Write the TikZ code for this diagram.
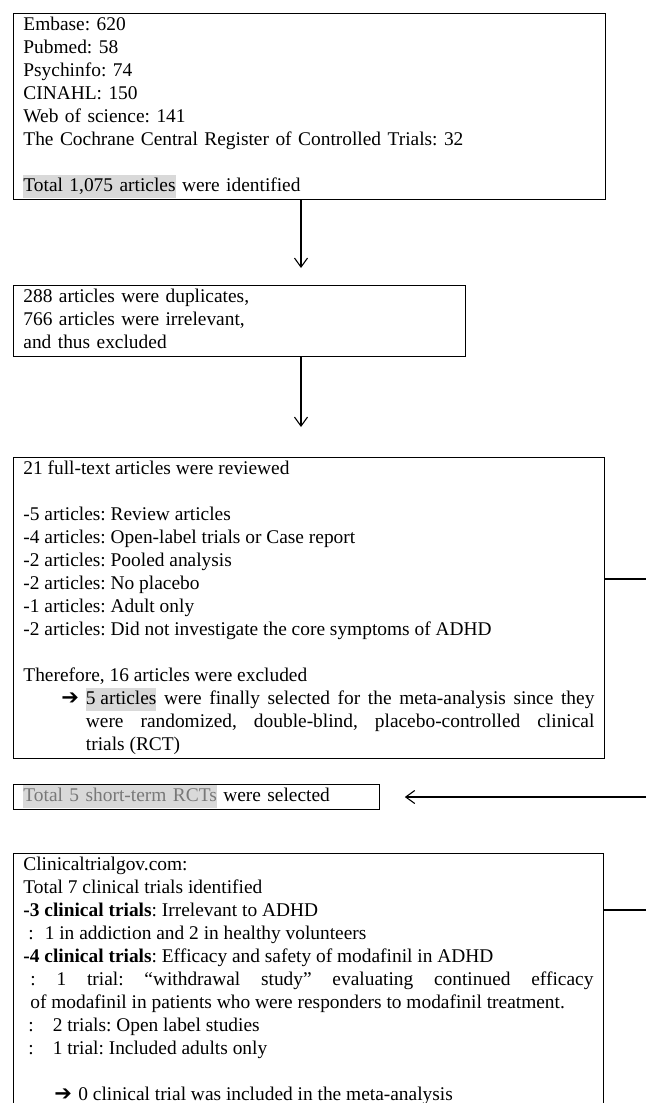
\documentclass[tikz,border=0pt]{standalone}
\usepackage{fontspec}
\setmainfont{Liberation Serif}
\newfontfamily\symfont{DejaVu Sans}
\usepackage{xcolor}
\usepackage{tikz}
\usetikzlibrary{arrows.meta}

\definecolor{hlgray}{RGB}{217,217,217}
\definecolor{txtgray}{RGB}{120,120,120}
\newcommand{\hlt}[1]{{\setlength{\fboxsep}{0pt}\colorbox{hlgray}{\strut#1}}}
\newcommand{\darr}{{\symfont\fontsize{21}{23}\selectfont ➔}}
\frenchspacing

\begin{document}
\begin{tikzpicture}[x=1pt,y=1pt,yscale=-1,
    panel/.style={draw, line width=0.8pt, anchor=north west, inner xsep=10pt, inner ysep=1pt,
        font=\fontsize{19.4}{23}\selectfont},
    flow/.style={-{Straight Barb[length=9pt,width=13pt]}, line width=1.1pt},
    link/.style={line width=1.1pt}]
        \useasboundingbox (0,0) rectangle (646,1103);
        \node (search) [panel, text width=572pt, align=left] at (13,13) {\strut Embase: 620\\
            Pubmed: 58\\
            Psychinfo: 74\\
            CINAHL: 150\\
            Web of science: 141\\
            The Cochrane Central Register of Controlled Trials: 32\\
            \strut\\
            \hlt{Total 1,075 articles} were identified};
        \node (dupl) [panel, text width=432pt, align=left] at (13,285) {\strut 288 articles were duplicates,\\
            766 articles were irrelevant,\\
            and thus excluded\strut};
        \node (full) [panel, text width=571pt, align=justify] at (13,457) {\noindent\strut 21 full-text articles were reviewed\\
            \strut\\
            -5 articles: Review articles\\
            -4 articles: Open-label trials or Case report\\
            -2 articles: Pooled analysis\\
            -2 articles: No placebo\\
            -1 articles: Adult only\\
            -2 articles: Did not investigate the core symptoms of ADHD\\
            \strut\\
            Therefore, 16 articles were excluded\par
            \noindent\hangindent=62.5pt\hangafter=1\hspace*{38pt}\makebox[24.5pt][l]{\darr}\hlt{5 articles} were finally selected for the meta-analysis since they\linebreak
            were randomized, double-blind, placebo-controlled clinical\linebreak
            trials (RCT)\strut\par};
        \node (rct) [panel, text width=346pt, align=left] at (13,784) {\strut{\color{txtgray}\hlt{Total 5 short-term RCTs}} were selected};
        \node (ctgov) [panel, text width=570pt, align=justify] at (13,853) {\noindent\strut Clinicaltrialgov.com:\\
            Total 7 clinical trials identified\\
            \textbf{-3 clinical trials}: Irrelevant to ADHD\\
            \hspace*{5pt}:\hspace{11pt}1 in addiction and 2 in healthy volunteers\\
            \textbf{-4 clinical trials}: Efficacy and safety of modafinil in ADHD\par
            {\noindent\leftskip=7pt : 1 trial: “withdrawal study” evaluating continued efficacy\linebreak
            of modafinil in patients who were responders to modafinil treatment.\par}
            \noindent\hspace*{5pt}:\hspace{19pt}2 trials: Open label studies\\
            \hspace*{5pt}:\hspace{19pt}1 trial: Included adults only\\
            \strut\\
            \hspace*{31pt}\makebox[24pt][l]{\darr}0 clinical trial was included in the meta-analysis\strut};
        \coordinate (mid) at (301,0);
        \coordinate (out1) at (646,579);
        \coordinate (in1) at (646,797);
        \coordinate (out2) at (646,910);
        \draw [flow, shorten >=17pt] (search.south -| mid) -- (dupl.north -| mid);
        \draw [flow, shorten >=30pt] (dupl.south -| mid) -- (full.north -| mid);
        \draw [link] (full.east |- out1) -- (out1);
        \draw [flow, shorten >=25pt] (in1) -- (rct.east |- in1);
        \draw [link] (ctgov.east |- out2) -- (out2);
\end{tikzpicture}
\end{document}
